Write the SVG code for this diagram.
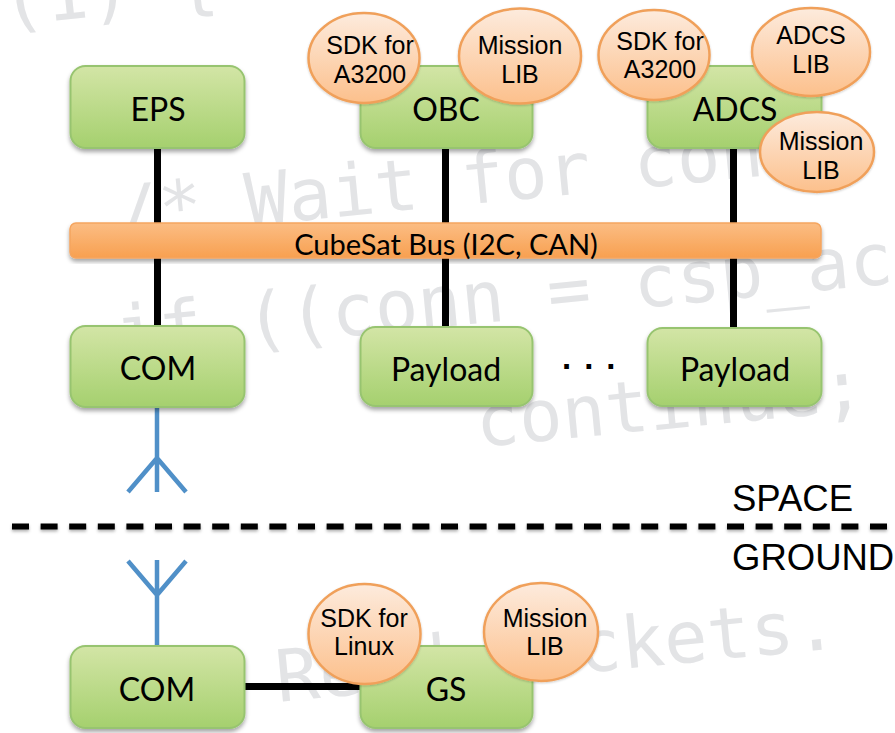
<svg xmlns="http://www.w3.org/2000/svg" width="895" height="733" viewBox="0 0 895 733">
<style>
.wm{font-family:"DejaVu Sans Mono",monospace;font-size:72px;fill:#e3e4e6}
.lbl{font-family:Lato,"Open Sans",sans-serif;font-size:32px;fill:#000;text-anchor:middle}
.bus{font-family:Lato,"Open Sans",sans-serif;font-size:29px;fill:#000;text-anchor:middle}
.lib{font-family:"Liberation Sans",Arial,sans-serif;font-size:25px;fill:#000;text-anchor:middle}
.zone{font-family:"Liberation Sans",Arial,sans-serif;font-size:36.500px;fill:#000}
.box{fill:url(#g);stroke:#97c46f;stroke-width:2;filter:url(#s)}
.ell{fill:url(#o);stroke:#f0a05a;stroke-width:2.500;filter:url(#s2)}
.wire{stroke:#000;stroke-width:7;fill:none}
.ant{stroke:#5090c8;stroke-width:4.500;fill:none}
</style>
<defs>
<linearGradient id="g" x1="0" y1="0" x2="0" y2="1"><stop offset="0" stop-color="#d3e5a6"/><stop offset="1" stop-color="#a5d06e"/></linearGradient>
<linearGradient id="o" x1="0" y1="0" x2="0" y2="1"><stop offset="0" stop-color="#fdebdd"/><stop offset="1" stop-color="#fcc08c"/></linearGradient>
<linearGradient id="b" x1="0" y1="0" x2="0" y2="1"><stop offset="0" stop-color="#fbbd84"/><stop offset="1" stop-color="#f8a050"/></linearGradient>
<filter id="s" x="-10%" y="-10%" width="120%" height="125%"><feDropShadow dx="0" dy="3" stdDeviation="2" flood-color="#000" flood-opacity=".35"/></filter>
<filter id="s2" x="-10%" y="-10%" width="120%" height="125%"><feDropShadow dx="0" dy="1" stdDeviation="1" flood-color="#000" flood-opacity=".2"/></filter>
<filter id="s3" filterUnits="userSpaceOnUse" x="0" y="510" width="895" height="35"><feDropShadow dx="0" dy="2" stdDeviation="1.500" flood-color="#000" flood-opacity=".3"/></filter>
</defs>
<rect width="895" height="733" fill="#fff"/>
<g id="watermark">
<text class="wm" x="4" y="26" transform="rotate(-6 4 26)">(1) {</text>
<text class="wm" x="118" y="238" transform="rotate(-5.500 118 238)">/* Wait for conn</text>
<text class="wm" x="118" y="358" transform="rotate(-5.500 118 358)">if ((conn = csp_ac</text>
<text class="wm" x="478" y="447" transform="rotate(-5.500 478 447)">continue;</text>
<text class="wm" x="278" y="702" transform="rotate(-5.500 278 702)">Read packets.</text>
</g>
<g id="connectors">
<path class="wire" d="M157.500 148V223M445.500 148V223M733.500 148V223M157.500 257V328M445.500 257V328M733.500 257V330M244 686.500H360"/>
<path class="ant" d="M157 406V492M157 458L128 492M157 458L186 492"/>
<path class="ant" d="M157 647V560M157 595L128 561M157 595L186 561"/>
<path d="M12 526.500H895" stroke="#000" stroke-width="6" stroke-dasharray="17 11.600" fill="none" filter="url(#s3)"/>
</g>
<g id="eps"><rect class="box" x="70.500" y="66" width="174" height="82" rx="15"/><text class="lbl" x="158" y="121">EPS</text></g>
<g id="obc"><rect class="box" x="360.500" y="66" width="172" height="82" rx="15"/><text class="lbl" x="446" y="121">OBC</text></g>
<g id="adcs"><rect class="box" x="647.500" y="66" width="174" height="82" rx="15"/><text class="lbl" x="735" y="121">ADCS</text></g>
<g id="bus"><rect x="70" y="223" width="751" height="35" rx="6" fill="url(#b)" stroke="#f5a55f" stroke-width="1.500" filter="url(#s)"/><text class="bus" x="446" y="255">CubeSat Bus (I2C, CAN)</text></g>
<g id="com-space"><rect class="box" x="70.500" y="326" width="174" height="81" rx="15"/><text class="lbl" x="158" y="380">COM</text></g>
<g id="payload1"><rect class="box" x="360.500" y="327" width="172" height="79" rx="15"/><text class="lbl" x="446" y="381">Payload</text></g>
<g id="payload2"><rect class="box" x="647.500" y="328" width="174" height="78" rx="15"/><text class="lbl" x="735" y="381">Payload</text></g>
<g id="dots"><text x="562" y="369" font-family="Liberation Sans,sans-serif" font-weight="700" font-size="33" letter-spacing="13">...</text></g>
<g id="sdk-obc"><ellipse class="ell" cx="364" cy="58" rx="55.500" ry="45"/><text class="lib" x="370" y="54">SDK for</text><text class="lib" x="370" y="83">A3200</text></g>
<g id="mission-obc"><ellipse class="ell" cx="520" cy="56" rx="61" ry="47.500"/><text class="lib" x="520" y="54">Mission</text><text class="lib" x="520" y="83">LIB</text></g>
<g id="sdk-adcs"><ellipse class="ell" cx="654" cy="55" rx="55.500" ry="45"/><text class="lib" x="660" y="50">SDK for</text><text class="lib" x="660" y="78">A3200</text></g>
<g id="adcs-lib"><ellipse class="ell" cx="811" cy="52" rx="59" ry="44"/><text class="lib" x="811" y="44">ADCS</text><text class="lib" x="811" y="73">LIB</text></g>
<g id="mission-adcs"><ellipse class="ell" cx="817" cy="152" rx="57" ry="40"/><text class="lib" x="821" y="150">Mission</text><text class="lib" x="821" y="179">LIB</text></g>
<g id="com-ground"><rect class="box" x="70.500" y="646" width="174" height="82" rx="15"/><text class="lbl" x="157" y="701">COM</text></g>
<g id="gs"><rect class="box" x="360.500" y="646" width="172" height="82" rx="15"/><text class="lbl" x="446" y="701">GS</text></g>
<g id="sdk-linux"><ellipse class="ell" cx="364.500" cy="634" rx="56" ry="50"/><text class="lib" x="364" y="627">SDK for</text><text class="lib" x="364" y="655">Linux</text></g>
<g id="mission-gs"><ellipse class="ell" cx="541" cy="632" rx="57" ry="49"/><text class="lib" x="545" y="627">Mission</text><text class="lib" x="545" y="655">LIB</text></g>
<g id="labels"><text class="zone" x="732" y="511">SPACE</text><text class="zone" x="732" y="570">GROUND</text></g>
</svg>
